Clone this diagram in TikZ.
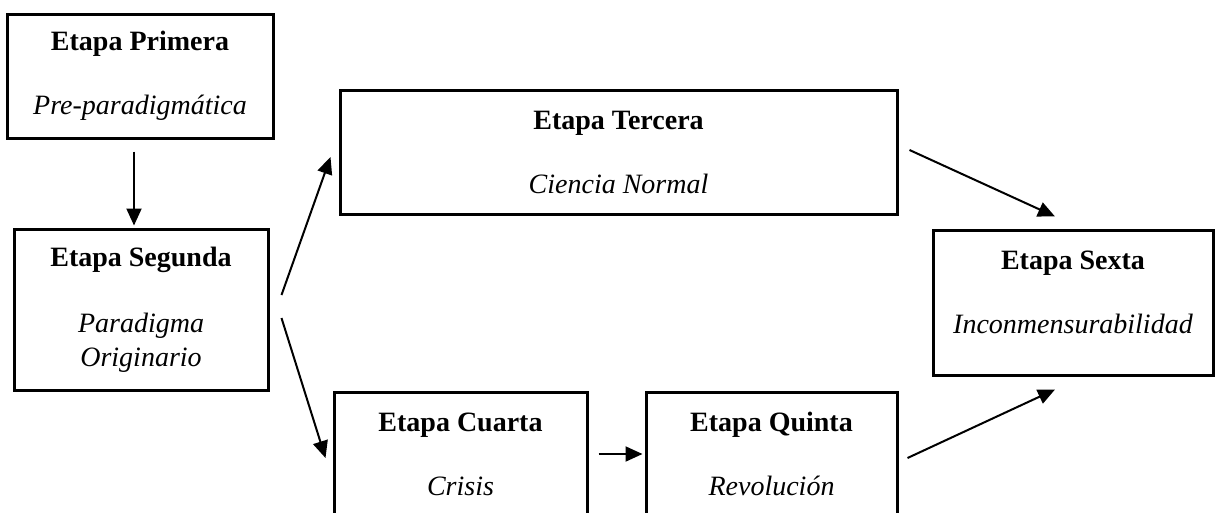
\documentclass[tikz,border=0pt]{standalone}
\usepackage{fontspec}
\setmainfont{Liberation Serif}
\usepackage{tikz}
\usetikzlibrary{arrows.meta}

\tikzset{
	etapa/.style = {draw, line width=3pt, rectangle, align=center, inner sep=0pt,
		font=\fontsize{28}{34}\selectfont},
	flecha/.style = {line width=2pt, -{Triangle[length=17pt,width=15pt]}}
}

\begin{document}
\begin{tikzpicture}[x=1pt,y=-1pt]
	\useasboundingbox (0,0) rectangle (1215,512);
	\clip (0,0) rectangle (1215,512);
	
	%the six stages
	\node[etapa, minimum width=266pt, minimum height=124pt] (primera) at (140,76)
		{\textbf{Etapa Primera}\\[30pt]\textit{Pre-paradigmática}};
	\node[etapa, minimum width=254pt, minimum height=161pt] (segunda) at (141,309.5)
		{\textbf{Etapa Segunda}\\[32pt]\textit{Paradigma}\\\textit{Originario}};
	\node[etapa, minimum width=557pt, minimum height=124pt] (tercera) at (618.5,152)
		{\textbf{Etapa Tercera}\\[30pt]\textit{Ciencia Normal}};
	\node[etapa, minimum width=253pt, minimum height=124pt] (cuarta) at (460.5,454)
		{\textbf{Etapa Cuarta}\\[30pt]\textit{Crisis}};
	\node[etapa, minimum width=251pt, minimum height=124pt] (quinta) at (771.5,454)
		{\textbf{Etapa Quinta}\\[30pt]\textit{Revolución}};
	\node[etapa, minimum width=280pt, minimum height=145pt] (sexta) at (1073,302.5)
		{\textbf{Etapa Sexta}\\[30pt]\textit{Inconmensurabilidad}\rule[-21pt]{0pt}{21pt}};
	
	%arrows between stages
	\draw[flecha, shorten <=12pt, shorten >=2pt] ([xshift=-6pt]primera.south) -- ([xshift=-7pt]segunda.north);
	\draw[flecha] ([xshift=12pt,yshift=14.5pt]segunda.east) -- ([xshift=-8pt,yshift=-5pt]tercera.west);
	\draw[flecha] ([xshift=12pt,yshift=-8.5pt]segunda.east) -- ([xshift=-7pt,yshift=-4pt]cuarta.west);
	\draw[flecha, shorten <=10pt, shorten >=2pt] (cuarta.east) -- (quinta.west);
	\draw[flecha] ([xshift=11pt,yshift=2pt]tercera.east) -- ([xshift=-18pt,yshift=12pt]sexta.north);
	\draw[flecha] ([xshift=9pt,yshift=-4pt]quinta.east) -- ([xshift=-18pt,yshift=-13pt]sexta.south);
	
\end{tikzpicture}
\end{document}
